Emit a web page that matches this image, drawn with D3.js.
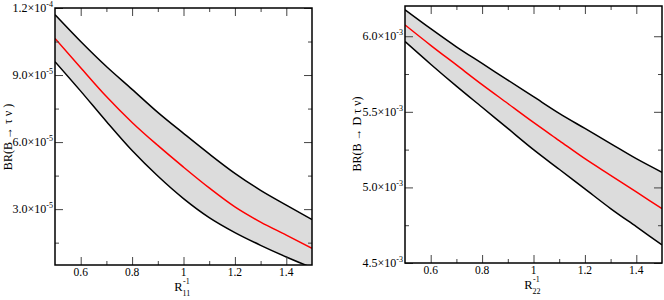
<!DOCTYPE html>
<html>
<head>
<meta charset="utf-8">
<script src="https://cdn.jsdelivr.net/npm/d3@7"></script>
<style>
  body { margin: 0; background: #fff; }
</style>
</head>
<body>
<div class="chart"></div>
<script>
// x values shared by both panels (R^-1)
var xVals = [0.5, 0.6, 0.7, 0.8, 0.9, 1.0, 1.1, 1.2, 1.3, 1.4, 1.5];

// left panel: BR(B -> tau nu), in units of 1e-5
var tauUpper = [11.7, 10.5, 9.38, 8.36, 7.33, 6.39, 5.47, 4.6, 3.84, 3.18, 2.53];
var tauCentral = [10.64, 9.33, 8.04, 6.88, 5.85, 4.88, 3.95, 3.1, 2.42, 1.84, 1.25];
var tauLower = [9.6, 8.28, 6.92, 5.62, 4.48, 3.47, 2.62, 1.95, 1.38, 0.86, 0.38];

// right panel: BR(B -> D tau nu), in units of 1e-3
var dtauUpper = [6.175, 6.05, 5.93, 5.82, 5.71, 5.6, 5.49, 5.39, 5.29, 5.19, 5.1];
var dtauCentral = [6.075, 5.94, 5.81, 5.68, 5.555, 5.43, 5.31, 5.19, 5.08, 4.97, 4.86];
var dtauLower = [5.965, 5.815, 5.67, 5.53, 5.39, 5.25, 5.12, 4.99, 4.86, 4.74, 4.62];

// tick labels
var xTicks = [0.6, 0.8, 1.0, 1.2, 1.4];
var xTickLabels = ["0.6", "0.8", "1", "1.2", "1.4"];
var xMinor = [0.7, 0.9, 1.1, 1.3];
var tauTicks = [3, 6, 9, 12];
var tauTickLabels = ["3.0×10", "6.0×10", "9.0×10", "1.2×10"];
var tauTickExp = ["-5", "-5", "-5", "-4"];
var tauMinor = [1.5, 4.5, 7.5, 10.5];
var dtauTicks = [4.5, 5.0, 5.5, 6.0];
var dtauTickLabels = ["4.5×10", "5.0×10", "5.5×10", "6.0×10"];
var dtauTickExp = ["-3", "-3", "-3", "-3"];
var dtauMinor = [4.75, 5.25, 5.75];

var serif = "'Liberation Serif', 'Times New Roman', 'DejaVu Serif', serif";

var svg = d3.select(".chart")
    .append("svg")
    .attr("width", 664)
    .attr("height", 300)
    .attr("font-family", serif);

function drawPanel(p) {
    var xScale = d3.scaleLinear().domain([0.5, 1.5]).range([p.left, p.right]);
    var yScale = d3.scaleLinear().domain(p.yDomain).range([p.bottom, p.top]);

    var clipId = "clip-" + p.name;
    svg.append("clipPath").attr("id", clipId)
        .append("rect")
        .attr("x", p.left).attr("y", p.top)
        .attr("width", p.right - p.left).attr("height", p.bottom - p.top);

    var rows = xVals.map(function(x, i) {
        return {x: x, lo: p.lower[i], mid: p.central[i], hi: p.upper[i]};
    });

    var g = svg.append("g").attr("clip-path", "url(#" + clipId + ")");

    //band between the limits
    g.append("path")
        .datum(rows)
        .attr("fill", "#dcdcdc")
        .attr("d", d3.area()
            .curve(d3.curveMonotoneX)
            .x(d => xScale(d.x))
            .y0(d => yScale(d.lo))
            .y1(d => yScale(d.hi)));

    ["hi", "lo", "mid"].forEach(function(key) {
        g.append("path")
            .datum(rows)
            .attr("fill", "none")
            .attr("stroke", key == "mid" ? "#ff0000" : "#000")
            .attr("stroke-width", 1.5)
            .attr("d", d3.line()
                .curve(d3.curveMonotoneX)
                .x(d => xScale(d.x))
                .y(d => yScale(d[key])));
    });

    //inward ticks on all four sides
    var tickColor = "#444";
    function axis(gen, transform, values, size) {
        var a = svg.append("g")
            .attr("transform", transform)
            .call(gen.tickValues(values).tickSize(size).tickFormat(""));
        a.select(".domain").remove();
        a.selectAll("line").attr("stroke", tickColor);
    }
    axis(d3.axisBottom(xScale), `translate(0,${p.bottom})`, xTicks, -8);
    axis(d3.axisBottom(xScale), `translate(0,${p.bottom})`, xMinor, -4);
    axis(d3.axisTop(xScale), `translate(0,${p.top})`, xTicks, -8);
    axis(d3.axisTop(xScale), `translate(0,${p.top})`, xMinor, -4);
    axis(d3.axisLeft(yScale), `translate(${p.left},0)`, p.yTicks, -8);
    axis(d3.axisLeft(yScale), `translate(${p.left},0)`, p.yMinor, -4);
    axis(d3.axisRight(yScale), `translate(${p.right},0)`, p.yTicks, -8);
    axis(d3.axisRight(yScale), `translate(${p.right},0)`, p.yMinor, -4);

    //frame
    svg.append("rect")
        .attr("x", p.left).attr("y", p.top)
        .attr("width", p.right - p.left).attr("height", p.bottom - p.top)
        .attr("fill", "none")
        .attr("stroke", "#000")
        .attr("stroke-width", 1.5);

    //x tick labels
    svg.selectAll(null).data(xTicks).enter()
        .append("text")
        .attr("x", d => xScale(d))
        .attr("y", p.bottom + 11)
        .attr("text-anchor", "middle")
        .attr("font-family", serif)
        .attr("font-size", "11.5px")
        .text((d, i) => xTickLabels[i]);

    //y tick labels with exponent
    var yl = svg.selectAll(null).data(p.yTicks).enter()
        .append("text")
        .attr("x", p.left - 2)
        .attr("y", d => yScale(d) + 4)
        .attr("text-anchor", "end")
        .attr("font-family", serif)
        .attr("font-size", "12px");
    yl.append("tspan").text((d, i) => p.yLabels[i]);
    yl.append("tspan")
        .attr("dy", -5)
        .attr("font-size", "8px")
        .text((d, i) => p.yExp[i]);

    //y axis title
    svg.append("text")
        .attr("transform", `translate(${p.titleX}, ${p.titleY}) rotate(-90)`)
        .attr("text-anchor", "middle")
        .attr("font-family", serif)
        .attr("font-size", "12px")
        .text(p.yTitle);

    //x axis title R^-1 with subscript
    var cx = (p.left + p.right) / 2;
    svg.append("text")
        .attr("x", cx - 1)
        .attr("y", p.bottom + 26)
        .attr("text-anchor", "end")
        .attr("font-family", serif)
        .attr("font-size", "12.5px")
        .text("R");
    svg.append("text")
        .attr("x", cx - 0.5)
        .attr("y", p.bottom + 19)
        .attr("font-family", serif)
        .attr("font-size", "8px")
        .text("-1");
    svg.append("text")
        .attr("x", cx - 1)
        .attr("y", p.bottom + 31)
        .attr("font-family", serif)
        .attr("font-size", "8px")
        .text(p.sub);
}

drawPanel({
    name: "tau", left: 55, right: 312, top: 8, bottom: 265,
    yDomain: [0.5, 12],
    upper: tauUpper, central: tauCentral, lower: tauLower,
    yTicks: tauTicks, yMinor: tauMinor, yLabels: tauTickLabels, yExp: tauTickExp,
    yTitle: "BR(B \u2192 \u03c4 \u03bd )", titleX: 12, titleY: 137,
    sub: "11"
});

drawPanel({
    name: "dtau", left: 405, right: 662, top: 6, bottom: 263,
    yDomain: [4.5, 6.2],
    upper: dtauUpper, central: dtauCentral, lower: dtauLower,
    yTicks: dtauTicks, yMinor: dtauMinor, yLabels: dtauTickLabels, yExp: dtauTickExp,
    yTitle: "BR(B \u2192 D \u03c4 \u03bd)", titleX: 361, titleY: 134,
    sub: "22"
});
</script>
</body>
</html>
